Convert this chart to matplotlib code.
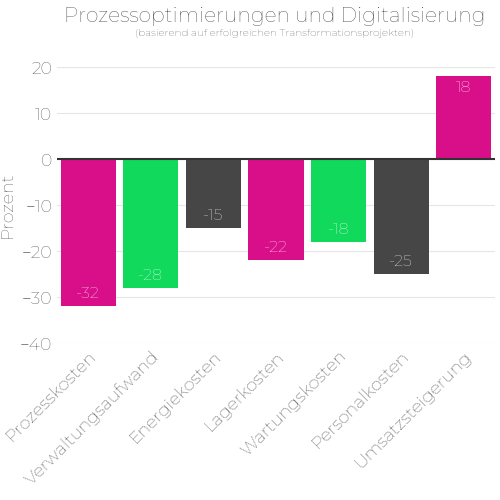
import matplotlib
matplotlib.use("Agg")
import matplotlib.pyplot as plt

categories = ["Prozesskosten", "Verwaltungsaufwand", "Energiekosten", "Lagerkosten",
              "Wartungskosten", "Personalkosten", "Umsatzsteigerung"]
values = [-32, -28, -15, -22, -18, -25, 18]
colors = ["#d90f8a", "#10d95c", "#464646", "#d90f8a", "#10d95c", "#464646", "#d90f8a"]

plt.rcParams['font.family'] = ['Montserrat', 'Lato', 'DejaVu Sans']
plt.rcParams['font.weight'] = 'medium'
txt = '#333333'
fig = plt.figure(figsize=(5, 5), dpi=100)
ax = fig.add_axes([0.114, 0.314, 0.876, 0.552])
x = range(len(categories))
ax.bar(x, values, width=0.88, color=colors, zorder=3)
for i, v in enumerate(values):
    ax.text(i, v + (2.6 if v < 0 else -2.6), str(v), ha='center', va='center',
            color='white', fontsize=11.5)
ax.set_xlim(-0.5, 6.5)
ax.set_ylim(-40, 20)
ax.set_yticks(range(-40, 21, 10))
ax.grid(axis='y', color='#e6e6e6', zorder=0)
ax.axhline(0, color='#333333', lw=1.5, zorder=4)
for s in ax.spines.values():
    s.set_visible(False)
ax.tick_params(length=0, labelsize=12.5, colors=txt)
ax.set_xticks(list(x))
ax.set_xticklabels(categories, rotation=45, ha='right', rotation_mode='anchor', fontsize=12.5)
ax.set_ylabel("Prozent", fontsize=12.5, color=txt)
fig.text(0.55, 0.966, "Prozessoptimierungen und Digitalisierung", ha='center', va='center', fontsize=14.5, color=txt)
fig.text(0.55, 0.932, "(basierend auf erfolgreichen Transformationsprojekten)", ha='center', va='center', fontsize=7.5, color=txt)
fig.savefig("out.png")
